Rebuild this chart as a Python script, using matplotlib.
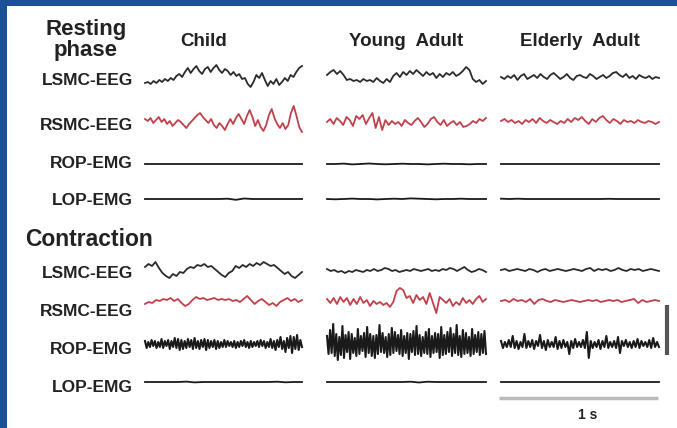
import numpy as np
import matplotlib
matplotlib.use("Agg")
from matplotlib import pyplot as plt
from matplotlib.patches import Rectangle

plt.rcParams['font.family'] = ['Liberation Sans', 'DejaVu Sans']

groups = ["Child", "Young  Adult", "Elderly  Adult"]
channels = ["LSMC-EEG", "RSMC-EEG", "ROP-EMG", "LOP-EMG"]
phases = ["Resting\nphase", "Contraction"]

# amplitudes (upward deflection, px)
child_rest_lsmc = [-6, -5, -7, -4, -6, -3, -5, -2, -4, -1, -3, 1, 3, 0, 5, 9, 4, 8, 11, 6, 3, 8, 10, 5, 9,
                   12, 7, 4, 8, 6, 2, 5, 1, 3, -2, -1, -7, -10, -5, 2, -1, 4, -3, -9, -4, -7, -2, -8, -5,
                   -1, -4, 2, 0, 5, 9, 11]
child_rest_rsmc = [3, 1, 4, -1, 2, 5, 0, 3, -2, 1, -4, -1, 2, 0, -3, -6, -2, 1, 4, 7, 9, 5, 2, -1, 3, -3,
                   -6, -1, -4, -8, -2, 3, -2, 4, 8, 3, -2, 6, 12, 5, -4, 2, -5, -9, -3, 7, 13, 4, -2, -6,
                   -1, -7, -3, 9, 16, 6, -5, -10]
child_rest_rop = [0, 0, 0, 0, 0, 0, 0, 0, 0, 0, 0, 0, 0, 0, 0, 0, 0, 0, 0, 0]
child_rest_lop = [0, 0, 0, 0, 0, 0, 0, 0, 0, 0, 0.3, -0.8, 0.5, 0, 0, 0, 0, 0, 0, 0]

young_rest_lsmc = [2, 5, 7, 3, 6, 2, -3, -2, -4, -3, -5, -2, -4, -3, -5, -1, -4, -6, -2, -5, 1, 4, 0, 5,
                   2, 6, 3, 7, 4, 1, 5, 2, 4, -1, 3, 0, 4, 2, 5, 1, 3, 6, 10, 7, -2, -5, -3, -7, -4]
young_rest_rsmc = [0, 3, -2, 4, 1, -3, 5, 2, -4, 6, 3, 7, -2, 4, 9, -6, 5, -8, 2, -3, 1, -2, 0, -4, 2, -1,
                   -3, 1, 4, 0, -5, -2, 3, 5, 0, -3, 2, -4, -1, 1, -3, 0, -5, -4, -2, 1, -1, 3, 1, 4]
young_rest_rop = [0, 0, 0.4, -0.4, 0, 0.5, 0, -0.3, 0, 0.3, 0, 0, -0.4, 0, 0.3, 0, 0, -0.3, 0, 0]
young_rest_lop = [0, -0.3, 0, 0.4, 0, 0, -0.4, 0, 0.3, 0, 0.6, 0.3, 0, -0.3, 0, 0, 0.3, 0, 0, 0]

eld_rest_lsmc = [0, -2, 1, -1, 2, -3, 1, 3, -2, 0, 2, -1, 3, 0, -2, 2, 4, 1, -2, 0, 3, -1, -3, 1, 2, 0,
                 -1, 3, 1, -2, 0, 2, -1, 1, 4, 5, 2, 0, 3, -1, 1, -2, 2, 0, -1, 1, -2, 0, -1]
eld_rest_rsmc = [1, 3, 0, 2, -1, 1, -2, 2, 0, 3, -1, 4, 1, -1, 2, 0, -2, 1, -1, 3, 0, 4, 2, 5, 1, -2, 3,
                 0, 4, 6, 2, -1, 3, 1, -2, 2, 0, 1, -1, 2, 0, -1, 1, 0, -2, 0]
eld_rest_rop = [0, 0, 0, 0, 0, 0, 0, 0, 0, 0, 0, 0, 0, 0, 0, 0, 0, 0, 0, 0]
eld_rest_lop = [0.3, 0, 0.3, 0, 0, 0, 0, 0, 0, 0, 0, 0, 0, 0.2, 0, 0, 0, 0, 0, 0]

child_con_lsmc = [3, 6, 4, 8, 2, -3, -6, -8, -4, -6, -2, -3, 1, 3, 2, 5, 4, 6, 3, 4, 1, -2, -5, -7, -3,
                  -1, 4, 2, 5, 3, 6, 4, 7, 5, 8, 6, 4, 5, 2, -1, -4, -2, -6, -8, -5, -2]
child_con_rsmc = [-3, -1, -2, 1, 0, 2, 1, 3, 0, 2, -2, -5, -3, 1, 4, 2, 3, 1, 2, 3, 1, 2, 1, 2, 0, 1, -1,
                  2, 5, 1, -3, 0, 2, -1, -4, -2, -5, -1, 1, 3, 0, 2, -1, 1]
child_con_rop = [3, -4, 2, -3, 4, -2, 3, -4, 2, -3, 5, -4, 3, -2, 4, -5, 3, -3, 6, -4, 5, -6, 4, -5, 3,
                 -4, 5, -3, 4, -5, 6, -4, 3, -5, 4, -3, 5, -6, 4, -4, 3, -3, 4, -5, 3, -4, 2, -3, 4, -3,
                 3, -2, 2, -3, 3, -4, 2, -3, 3, -2, 4, -3, 2, -4, 3, -3, 2, -2, 3, -3, 4, -2, 3, -4, 2,
                 -3, 5, -4, 3, -6, 4, -3, 7, -5, 3, -8, 6, -4, 8, -9, 7, -5, 9, -6, 4, -3]
child_con_lop = [0, 0, 0, 0, 0, 0.4, -0.4, 0, 0, 0, 0, 0, 0, 0, 0, 0, 0.3, -0.3, 0, 0]

young_con_lsmc = [1, -1, 0, -2, -1, -3, -1, -2, 0, -1, -2, 0, -1, 1, -1, 0, 2, 1, -1, 0, -2, -1, 0, -1,
                  1, 0, -1, 0, 1, -1, 0, -1, 1, 0, 2, 1, -1, 1, 3, 0, -2, -1, 1, 0, -2]
young_con_rsmc = [2, -2, 3, -3, 4, -1, 3, -4, 2, -3, 4, -2, 1, -5, 0, -3, -1, -4, -2, -6, -1, 10, 13, 11,
                  3, 5, -2, 6, 1, 4, -3, 8, -2, -12, 4, 1, -2, 2, -5, -1, -4, 3, -2, 1, -3, 2, 5, -1, 2]
young_con_rop = [8, -10, 14, -9, 20, -12, 10, -16, 7, -11, 18, -14, 9, -8, 12, -15, 10, -9, 6, -12, 15,
                 -10, 8, -7, 11, -13, 17, -9, 10, -12, 8, -14, 9, -10, 19, -8, 11, -9, 7, -13, 10, -11,
                 16, -9, 12, -7, 9, -10, 14, -12, 8, -9, 11, -15, 10, -8, 13, -11, 18, -10, 9, -12, 7,
                 -9, 12, -10, 15, -13, 8, -9, 11, -8, 10, -14, 17, -11, 9, -10, 12, -8, 16, -12, 10, -9,
                 19, -11, 8, -13, 14, -10, 11, -9, 7, -12, 15, -10, 9, -8, 12, -11, 10, -9, 13, -10]
young_con_lop = [0, 0, 0, 0, 0, 0, 0, 0, 0, 0, 0.3, -0.5, 0.3, 0, 0, 0, 0, 0, 0, 0]

eld_con_lsmc = [0, 1, -1, 0, 1, 0, -1, 1, 0, -2, 0, 1, -1, 0, 1, 0, -1, 0, 1, 0, -1, 1, 2, -1, 1, 0, 1,
                -1, 0, 2, 0, -1, 1, 0, 1, -1, 0, 1, 0, -1]
eld_con_rsmc = [0, 1, -1, 2, 0, 1, -1, 2, -3, 1, 2, 0, -1, 1, 0, -1, 0, 1, 0, -1, 0, 1, 0, 1, -1, 0, 1,
                0, 1, -1, 0, 1, 2, -2, 1, -1, 0, 1, 0]
eld_con_rop = [3, -4, 2, -3, 4, -3, 8, -4, 3, -5, 2, -3, 10, -4, 3, -3, 4, -5, 3, -2, 9, -4, 3, -6, 4, -3,
               2, -3, 7, -5, 3, -4, 4, -3, 2, -10, 3, -4, 5, -3, 2, -3, 4, -4, 12, -14, 3, -4, 2, -3, 4,
               -5, 3, -3, 8, -4, 2, -3, 3, -4, 7, -9, 3, -2, 4, -3, 2, -4, 3, -3, 5, -4, 3, -2, 2, -3,
               4, -4, 6, -3, 2, -3]
eld_con_lop = [0, 0, 0, 0, 0, 0, 0, 0, 0, 0, 0, 0, 0, 0, 0, 0, 0, 0, 0, 0]

traces = {
    (0, 0): [child_rest_lsmc, child_rest_rsmc, child_rest_rop, child_rest_lop],
    (0, 1): [young_rest_lsmc, young_rest_rsmc, young_rest_rop, young_rest_lop],
    (0, 2): [eld_rest_lsmc, eld_rest_rsmc, eld_rest_rop, eld_rest_lop],
    (1, 0): [child_con_lsmc, child_con_rsmc, child_con_rop, child_con_lop],
    (1, 1): [young_con_lsmc, young_con_rsmc, young_con_rop, young_con_lop],
    (1, 2): [eld_con_lsmc, eld_con_rsmc, eld_con_rop, eld_con_lop],
}

# layout in pixels
col_x = [(145, 302), (327, 486), (501, 659)]
base_y = {0: [77, 122, 164, 199], 1: [270, 301, 344, 382]}
label_y = {0: [80, 125, 163, 200], 1: [273, 312, 349, 387]}
colors = ["#2b2b2b", "#c0404c", "#1a1a1a", "#1a1a1a"]

fig = plt.figure(figsize=(6.77, 4.28), dpi=100, facecolor="#1d4f94")
ax = fig.add_axes([0, 0, 1, 1])
ax.set_xlim(0, 677)
ax.set_ylim(428, 0)
ax.axis("off")
ax.add_patch(Rectangle((7, 6), 680, 430, facecolor="white", edgecolor="none"))

txt = "#222222"
ax.text(86, 40, phases[0], ha="center", va="center", fontsize=16, fontweight="bold",
        color=txt, linespacing=0.95)
ax.text(25, 239, phases[1], ha="left", va="center", fontsize=16.5, fontweight="bold", color=txt)
for g, (x0, x1) in zip(groups, col_x):
    ax.text((x0 + x1) / 2 + (-20 if g == "Child" else 0), 41, g, ha="center", va="center",
            fontsize=13.5, fontweight="bold", color=txt)

for p in (0, 1):
    for c, ch in enumerate(channels):
        ax.text(133, label_y[p][c], ch, ha="right", va="center", fontsize=12.5,
                fontweight="bold", color=txt)
    for g in range(3):
        x0, x1 = col_x[g]
        for c in range(4):
            v = np.array(traces[(p, g)][c], dtype=float)
            x = np.linspace(x0, x1, len(v))
            lw = 1.5 if c == 2 and p == 1 else 1.3
            ax.plot(x, base_y[p][c] - v, color=colors[c], lw=lw, solid_joinstyle="round")

# scale bars
ax.plot([667, 667], [305, 355], color="#555555", lw=3, solid_capstyle="butt")
ax.plot([499, 658], [398, 398], color="#bbbbbb", lw=2.5, solid_capstyle="butt")
ax.text(588, 415, "1 s", ha="center", va="center", fontsize=10, fontweight="bold", color=txt)

fig.savefig("out.png", dpi=100, facecolor=fig.get_facecolor())
